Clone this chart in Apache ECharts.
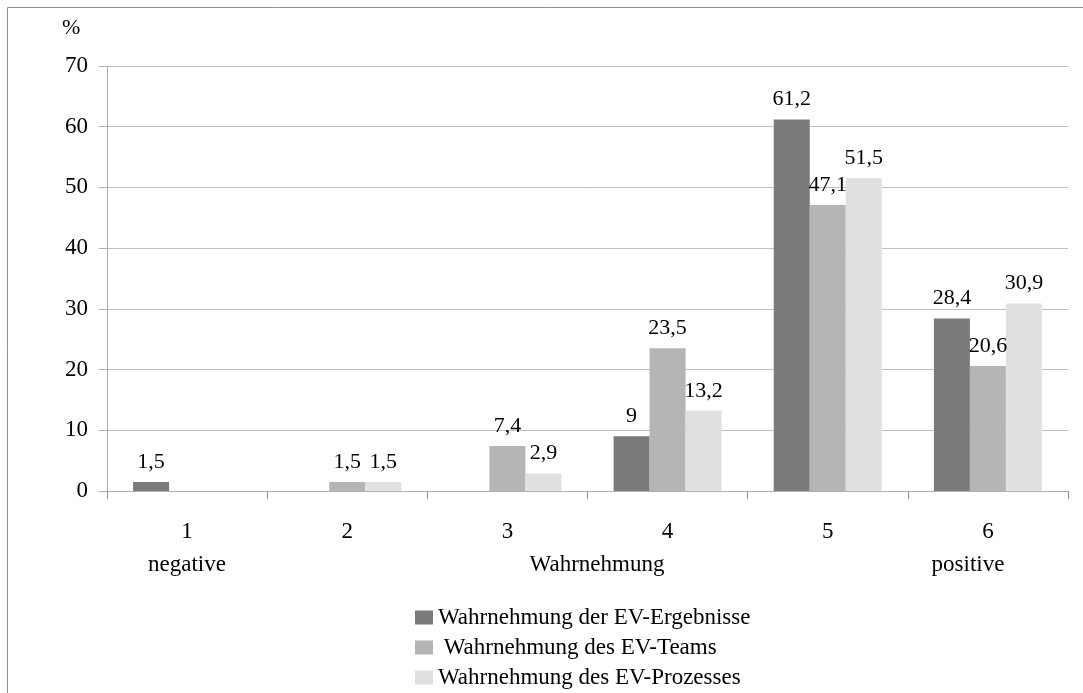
<!DOCTYPE html>
<html>
<head>
<meta charset="utf-8">
<script src="https://cdn.jsdelivr.net/npm/echarts@6/dist/echarts.min.js"></script>
<style>
html,body{margin:0;padding:0;background:#fff;}
#chart{width:1083px;height:693px;}
</style>
</head>
<body>
<div id="chart"></div>
<script>
const categories = ['1', '2', '3', '4', '5', '6'];
const seriesNames = ['Wahrnehmung der EV-Ergebnisse', ' Wahrnehmung des EV-Teams', 'Wahrnehmung des EV-Prozesses'];
const ergebnisse = [1.5, 0, 0, 9, 61.2, 28.4];
const teams = [0, 1.5, 7.4, 23.5, 47.1, 20.6];
const prozesse = [0, 1.5, 2.9, 13.2, 51.5, 30.9];
const yTicks = [0, 10, 20, 30, 40, 50, 60, 70];
const colors = ['#7a7a7a', '#b5b5b5', '#e0e0e0'];
const FONT = '"Liberation Serif", "Times New Roman", serif';

const chart = echarts.init(document.getElementById('chart'));
function mk(name, data, color) {
  return {
    name: name, type: 'bar', data: data, barWidth: 36, barGap: '0%',
    itemStyle: { color: color },
    label: {
      show: true, position: 'top', distance: 9, color: '#000',
      fontFamily: FONT, fontSize: 22,
      formatter: p => p.value === 0 ? '' : String(p.value).replace('.', ',')
    }
  };
}
chart.setOption({
  animation: false,
  textStyle: { fontFamily: FONT },
  grid: { left: 107, right: 15, top: 66, bottom: 202 },
  legend: {
    orient: 'vertical', left: 410, top: 601, height: 92, itemGap: 7,
    itemWidth: 18, itemHeight: 14, icon: 'rect',
    textStyle: { fontFamily: FONT, fontSize: 23, lineHeight: 23, color: '#000' },
    data: seriesNames
  },
  xAxis: {
    type: 'category', data: categories,
    axisLine: { lineStyle: { color: '#b0b0b0' } },
    axisTick: { show: true, length: 8, lineStyle: { color: '#909090' } },
    axisLabel: { color: '#000', fontFamily: FONT, fontSize: 23, margin: 29 }
  },
  yAxis: {
    type: 'value', min: 0, max: 70, interval: 10,
    axisLine: { show: true, lineStyle: { color: '#b0b0b0' } },
    axisTick: { show: true, length: 8, lineStyle: { color: '#b0b0b0' } },
    axisLabel: { color: '#000', fontFamily: FONT, fontSize: 23, margin: 19,
      formatter: v => yTicks.includes(v) ? String(v) : '' },
    splitLine: { lineStyle: { color: '#c0c0c0' } }
  },
  graphic: [
    { type: 'line', shape: { x1: 7.5, y1: 7.5, x2: 1083, y2: 7.5 }, style: { stroke: '#909090', lineWidth: 1 } },
    { type: 'line', shape: { x1: 7.5, y1: 7.5, x2: 7.5, y2: 693 }, style: { stroke: '#909090', lineWidth: 1 } },
    { type: 'text', left: 62, top: 17, style: { text: '%', font: '22px ' + FONT, fill: '#000' } },
    { type: 'text', x: 187, y: 565, style: { text: 'negative', font: '23px ' + FONT, fill: '#000', align: 'center', verticalAlign: 'middle' } },
    { type: 'text', x: 597, y: 565, style: { text: 'Wahrnehmung', font: '23px ' + FONT, fill: '#000', align: 'center', verticalAlign: 'middle' } },
    { type: 'text', x: 968, y: 565, style: { text: 'positive', font: '23px ' + FONT, fill: '#000', align: 'center', verticalAlign: 'middle' } }
  ],
  series: [
    mk(seriesNames[0], ergebnisse, colors[0]),
    mk(seriesNames[1], teams, colors[1]),
    mk(seriesNames[2], prozesse, colors[2])
  ]
});
</script>
</body>
</html>
